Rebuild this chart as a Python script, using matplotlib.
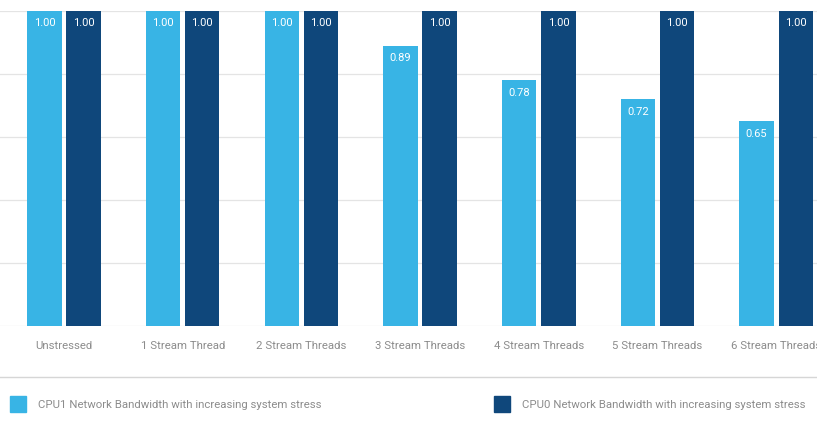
import matplotlib.pyplot as plt
import numpy as np

categories = ["Unstressed", "1 Stream Thread", "2 Stream Threads", "3 Stream Threads",
              "4 Stream Threads", "5 Stream Threads", "6 Stream Threads"]
cpu1 = [1.00, 1.00, 1.00, 0.89, 0.78, 0.72, 0.65]
cpu0 = [1.00, 1.00, 1.00, 1.00, 1.00, 1.00, 1.00]
series_names = ["CPU1 Network Bandwidth with increasing system stress",
                "CPU0 Network Bandwidth with increasing system stress"]

light = "#38b4e5"
dark = "#0f477b"
grey_text = "#8c8c8c"

plt.rcParams['font.family'] = ['Roboto', 'DejaVu Sans']

W, H = 817, 428
fig = plt.figure(figsize=(W / 100, H / 100), dpi=100)

# axes spans the full width; y from 0 (px 326) to 1.0 (px 11)
ax = fig.add_axes([0, (H - 326) / H, 1, (326 - 11) / H])

x = np.arange(len(categories))
unit = 118.7
ax.set_xlim(-64 / unit, (W - 64) / unit)
ax.set_ylim(0, 1.0)

bw = 0.29
off = 0.165
b1 = ax.bar(x - off, cpu1, bw, color=light, zorder=3, clip_on=False)
b0 = ax.bar(x + off, cpu0, bw, color=dark, zorder=3, clip_on=False)

for bars, vals in [(b1, cpu1), (b0, cpu0)]:
    for rect, v in zip(bars, vals):
        ax.annotate(f"{v:.2f}", (rect.get_x() + rect.get_width() / 2, v),
                    xytext=(0, -9), textcoords="offset points", ha="center", va="center",
                    color="white", fontsize=8, zorder=4)

for g in np.arange(0, 1.01, 0.2):
    ax.axhline(g, color="#e4e4e4", lw=0.9, zorder=1)

for s in ax.spines.values():
    s.set_visible(False)
ax.set_yticks([])
ax.set_xticks(x)
ax.set_xticklabels(categories, color=grey_text, fontsize=8.2)
ax.tick_params(axis="x", length=0, pad=11)

# separator line above legend
fig.add_artist(plt.Line2D([0, 1], [(H - 377) / H] * 2, color="#d6d6d6", lw=1))

# legend
for px, col, name in [(10, light, series_names[0]), (494, dark, series_names[1])]:
    fig.add_artist(plt.Rectangle((px / W, (H - 412) / H), 16 / W, 16 / H,
                                 color=col, transform=fig.transFigure))
    fig.text((px + 28) / W, (H - 405) / H, name, color=grey_text, fontsize=8.2, va="center")

fig.savefig("out.png", dpi=100)
